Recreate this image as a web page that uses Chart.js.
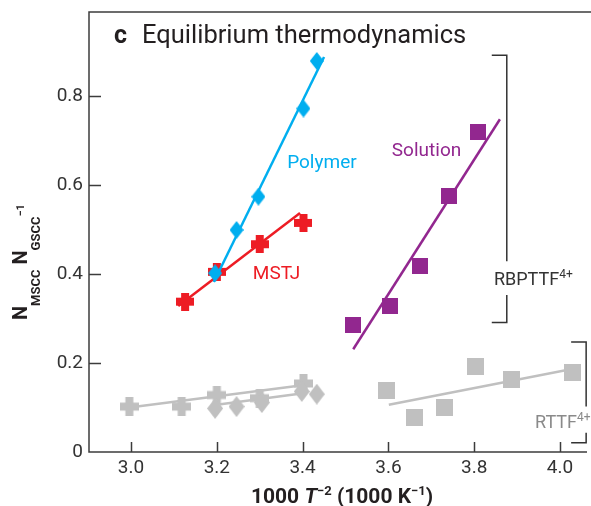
<!DOCTYPE html>
<html>
<head>
<meta charset="utf-8">
<script src="https://cdn.jsdelivr.net/npm/chart.js@4.4.0/dist/chart.umd.min.js"></script>
<style>
  html, body { margin: 0; padding: 0; background: #fff; }
  #wrap { width: 591px; height: 506px; }
</style>
</head>
<body>
<div id="wrap"><canvas id="chart" width="591" height="506"></canvas></div>
<script>
// --- data ---
const xTicks = [3.0, 3.2, 3.4, 3.6, 3.8, 4.0];
const yTicks = [0, 0.2, 0.4, 0.6, 0.8];

// Polymer (blue diamonds)
const polymerX = [3.196, 3.246, 3.297, 3.402, 3.433];
const polymerY = [0.402, 0.499, 0.574, 0.772, 0.879];
const polymerFitX = [3.193, 3.45];
const polymerFitY = [0.382, 0.888];

// MSTJ (red crosses)
const mstjX = [3.126, 3.200, 3.300, 3.402];
const mstjY = [0.338, 0.405, 0.467, 0.515];
const mstjFitX = [3.11, 3.394];
const mstjFitY = [0.328, 0.537];

// Solution (purple squares)
const solutionX = [3.517, 3.604, 3.674, 3.741, 3.808];
const solutionY = [0.285, 0.329, 0.419, 0.575, 0.720];
const solutionFitX = [3.518, 3.860];
const solutionFitY = [0.231, 0.748];

// RBPTTF4+ gray crosses / diamonds
const grayCrossX = [2.996, 3.118, 3.200, 3.300, 3.402];
const grayCrossY = [0.102, 0.102, 0.128, 0.121, 0.154];
const grayCrossFitX = [2.996, 3.40];
const grayCrossFitY = [0.100, 0.150];

const grayDiamondX = [3.196, 3.246, 3.305, 3.398, 3.433];
const grayDiamondY = [0.098, 0.102, 0.111, 0.136, 0.130];
const grayDiamondFitX = [3.20, 3.41];
const grayDiamondFitY = [0.106, 0.133];

// RTTF4+ gray squares
const rttfX = [3.596, 3.662, 3.730, 3.802, 3.886, 4.030];
const rttfY = [0.139, 0.077, 0.100, 0.193, 0.162, 0.179];
const rttfFitX = [3.601, 4.031];
const rttfFitY = [0.106, 0.187];

// --- colours ---
const BLUE = '#00aeef';
const RED = '#ed1c24';
const PURPLE = '#92278f';
const GRAY = '#c0c0c0';

// --- marker images ---
function plusMarker(size, arm, color) {
    const c = document.createElement('canvas');
    c.width = size; c.height = size;
    const g = c.getContext('2d');
    g.fillStyle = color;
    const o = (size - arm) / 2;
    g.fillRect(o, 0, arm, size);
    g.fillRect(0, o, size, arm);
    return c;
}
function diamondMarker(w, h, color) {
    const c = document.createElement('canvas');
    c.width = w; c.height = h;
    const g = c.getContext('2d');
    g.fillStyle = color;
    g.beginPath();
    g.moveTo(w / 2, 0); g.lineTo(w, h / 2); g.lineTo(w / 2, h); g.lineTo(0, h / 2);
    g.closePath(); g.fill();
    return c;
}
function squareMarker(s, color) {
    const c = document.createElement('canvas');
    c.width = s; c.height = s;
    const g = c.getContext('2d');
    g.fillStyle = color;
    g.fillRect(0, 0, s, s);
    return c;
}

const pts = (xs, ys) => xs.map((v, i) => ({ x: v, y: ys[i] }));

function lineSet(xs, ys, color, order) {
    return { data: pts(xs, ys), showLine: true, borderColor: color, borderWidth: 2.5,
             pointRadius: 0, fill: false, order: order };
}
function pointSet(xs, ys, img, order) {
    return { data: pts(xs, ys), showLine: false, pointStyle: img, pointRadius: 9, order: order };
}

// --- decorations: frame, inside ticks, titles, labels, brackets ---
function richText(ctx, parts, x, y) {
    parts.forEach(p => {
        ctx.font = p.font;
        ctx.fillText(p.t, x, y - (p.dy || 0));
        x += ctx.measureText(p.t).width;
    });
    return x;
}
function richWidth(ctx, parts) {
    let w = 0;
    parts.forEach(p => { ctx.font = p.font; w += ctx.measureText(p.t).width; });
    return w;
}

const decor = {
    id: 'decor',
    beforeDatasetsDraw(chart) {
        const { ctx, chartArea: a, scales: { x, y } } = chart;
        ctx.save();
        ctx.strokeStyle = '#3c3c3c';
        ctx.lineWidth = 1.5;
        ctx.beginPath();
        ctx.moveTo(chart.width, a.top);
        ctx.lineTo(a.left, a.top);
        ctx.lineTo(a.left, a.bottom);
        ctx.lineTo(a.right, a.bottom);
        xTicks.forEach(v => {
            const px = Math.round(x.getPixelForValue(v)) + 0.5;
            ctx.moveTo(px, a.bottom); ctx.lineTo(px, a.bottom - 10);
        });
        yTicks.slice(1).forEach(v => {
            const py = Math.round(y.getPixelForValue(v)) + 0.5;
            ctx.moveTo(a.left, py); ctx.lineTo(a.left + 12, py);
        });
        ctx.stroke();
        ctx.restore();
    },
    afterDraw(chart) {
        const { ctx, scales: { x, y } } = chart;
        const X = v => x.getPixelForValue(v);
        const Y = v => y.getPixelForValue(v);
        ctx.save();
        ctx.textBaseline = 'alphabetic';
        ctx.textAlign = 'left';

        // panel title
        ctx.fillStyle = '#231f20';
        ctx.font = 'bold 25px Roboto';
        ctx.fillText('c', 114, 43);
        ctx.font = '25.5px Roboto';
        ctx.fillText('Equilibrium thermodynamics', 142, 43);

        // series labels
        ctx.font = '19px Roboto';
        ctx.fillStyle = BLUE;
        ctx.fillText('Polymer', X(3.364), Y(0.638));
        ctx.fillStyle = PURPLE;
        ctx.fillText('Solution', X(3.608), Y(0.666));
        ctx.fillStyle = RED;
        ctx.fillText('MSTJ', X(3.284), Y(0.388));

        ctx.fillStyle = '#333';
        richText(ctx, [{ t: 'RBPTTF', font: '18px Roboto' }, { t: '4+', font: '12px Roboto', dy: 7 }],
                 X(3.846), Y(0.375));
        ctx.fillStyle = '#8a8a8a';
        richText(ctx, [{ t: 'RTTF', font: '18px Roboto' }, { t: '4+', font: '12px Roboto', dy: 7 }],
                 X(3.942), Y(0.054));

        // brackets
        ctx.strokeStyle = '#333';
        ctx.lineWidth = 1.5;
        ctx.beginPath();
        ctx.moveTo(X(3.841), Y(0.892)); ctx.lineTo(X(3.876), Y(0.892)); ctx.lineTo(X(3.876), Y(0.429));
        ctx.moveTo(X(3.876), Y(0.353)); ctx.lineTo(X(3.876), Y(0.291)); ctx.lineTo(X(3.841), Y(0.291));
        ctx.moveTo(X(4.026), Y(0.247)); ctx.lineTo(X(4.061), Y(0.247)); ctx.lineTo(X(4.061), Y(0.102));
        ctx.moveTo(X(4.061), Y(0.043)); ctx.lineTo(X(4.061), Y(0.021)); ctx.lineTo(X(4.026), Y(0.021));
        ctx.stroke();

        // x axis title
        ctx.fillStyle = '#231f20';
        const xt = [
            { t: '1000 ', font: 'bold 21px Roboto' },
            { t: 'T', font: 'italic bold 21px Roboto' },
            { t: '\u22122', font: 'bold 13px Roboto', dy: 8 },
            { t: ' (1000 K', font: 'bold 21px Roboto' },
            { t: '\u22121', font: 'bold 13px Roboto', dy: 8 },
            { t: ')', font: 'bold 21px Roboto' }
        ];
        richText(ctx, xt, 342 - richWidth(ctx, xt) / 2, 503);

        // y axis title (rotated)
        ctx.translate(27, 320);
        ctx.rotate(-Math.PI / 2);
        const yt = [
            { t: 'N', font: 'bold 20px Roboto' },
            { t: 'MSCC', font: 'bold 13px Roboto', dy: -13 },
            { t: ' N', font: 'bold 20px Roboto' },
            { t: 'GSCC', font: 'bold 13px Roboto', dy: -13 },
            { t: '\u22121', font: 'bold 11px Roboto', dy: 3 }
        ];
        richText(ctx, yt, 0, 0);
        ctx.restore();
    }
};

const ctx = document.getElementById('chart').getContext('2d');
const chart = new Chart(ctx, {
    type: 'scatter',
    data: {
        datasets: [
            lineSet(grayCrossFitX, grayCrossFitY, GRAY, 20),
            lineSet(grayDiamondFitX, grayDiamondFitY, GRAY, 19),
            lineSet(rttfFitX, rttfFitY, GRAY, 18),
            pointSet(grayCrossX, grayCrossY, plusMarker(19, 8, GRAY), 17),
            pointSet(grayDiamondX, grayDiamondY, diamondMarker(16, 21, GRAY), 16),
            pointSet(rttfX, rttfY, squareMarker(17, GRAY), 15),
            lineSet(mstjFitX, mstjFitY, RED, 14),
            pointSet(mstjX, mstjY, plusMarker(18, 8, RED), 13),
            lineSet(polymerFitX, polymerFitY, BLUE, 12),
            pointSet(polymerX, polymerY, diamondMarker(14, 18, BLUE), 11),
            lineSet(solutionFitX, solutionFitY, PURPLE, 10),
            pointSet(solutionX, solutionY, squareMarker(16, PURPLE), 9)
        ]
    },
    options: {
        responsive: false,
        animation: false,
        devicePixelRatio: 1,
        layout: { autoPadding: false, padding: { top: 12, right: 4, left: 0, bottom: 0 } },
        plugins: { legend: { display: false }, tooltip: { enabled: false } },
        scales: {
            x: {
                type: 'linear',
                min: 2.902,
                max: 4.063,
                grid: { display: false, drawTicks: false },
                border: { display: false },
                afterBuildTicks: s => { s.ticks = xTicks.map(v => ({ value: v })); },
                afterFit: s => { s.height = 54; s.paddingLeft = 0; s.paddingRight = 0; },
                ticks: {
                    padding: 5,
                    color: '#333',
                    font: { family: 'Roboto', size: 19 },
                    callback: v => v.toFixed(1)
                }
            },
            y: {
                type: 'linear',
                min: 0,
                max: 0.989,
                grid: { display: false, drawTicks: false },
                border: { display: false },
                afterBuildTicks: s => { s.ticks = yTicks.map(v => ({ value: v })); },
                afterFit: s => { s.width = 89; s.paddingTop = 0; s.paddingBottom = 0; },
                ticks: {
                    padding: 6,
                    color: '#333',
                    font: { family: 'Roboto', size: 19 },
                    callback: v => (v === 0 ? '0' : v.toFixed(1))
                }
            }
        }
    },
    plugins: [decor]
});
</script>
</body>
</html>
